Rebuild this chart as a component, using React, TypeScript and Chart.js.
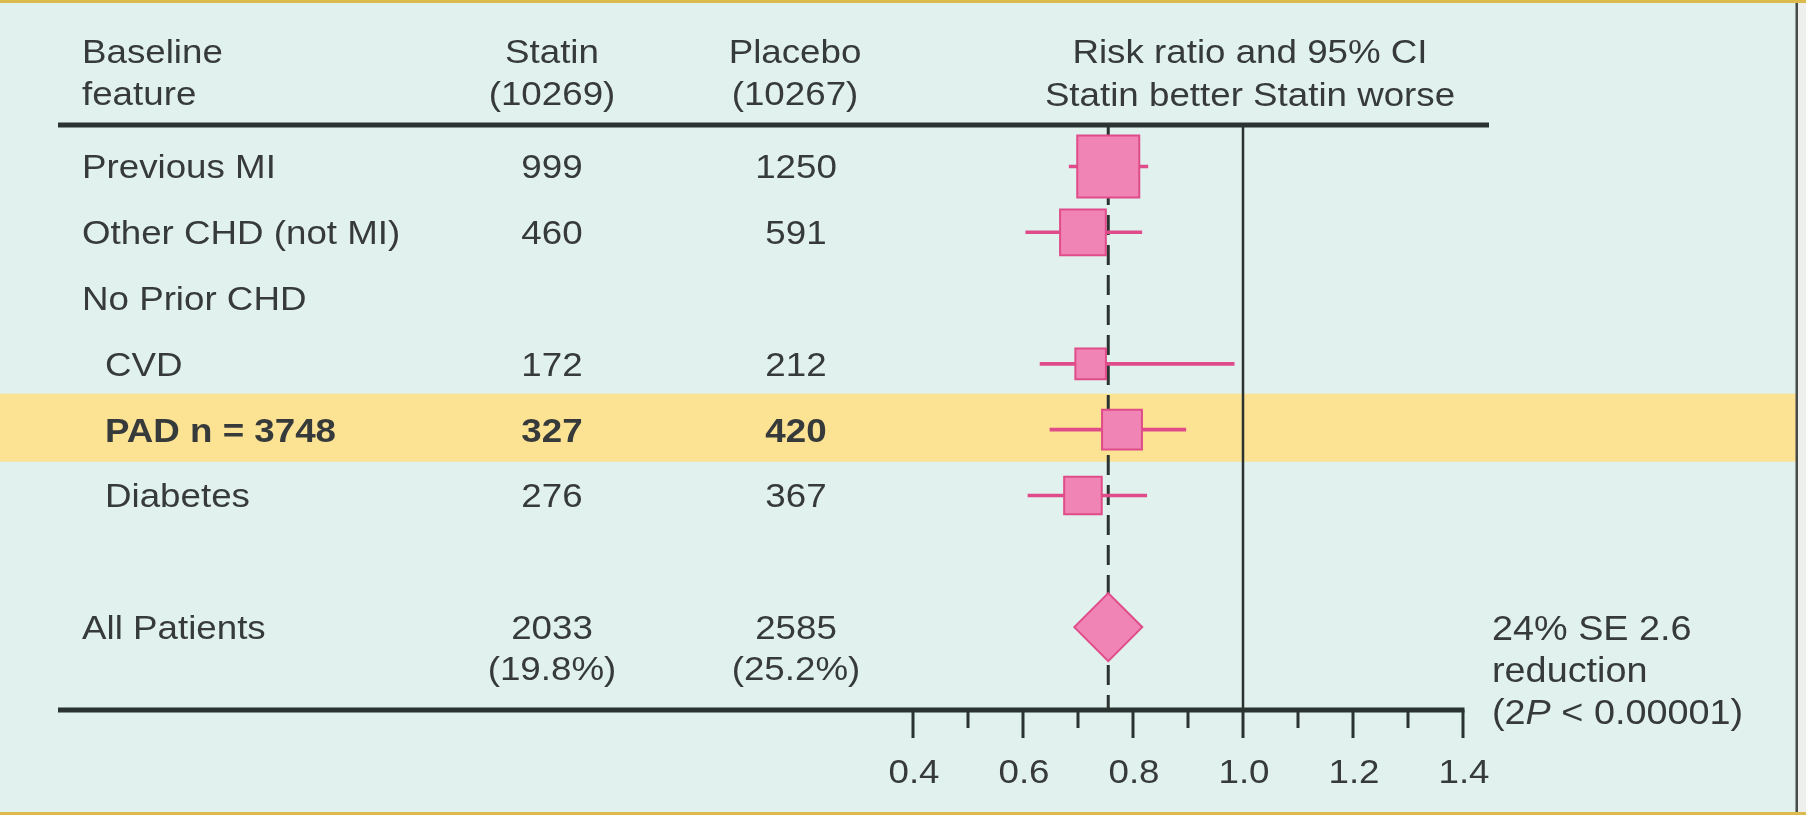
import React, { useEffect, useRef } from 'react';
import { Chart, registerables } from 'chart.js';

Chart.register(...registerables);

// ---------------- data ----------------
const features = ['Previous MI', 'Other CHD (not MI)', 'No Prior CHD', 'CVD', 'PAD n = 3748', 'Diabetes', 'All Patients'];
const rowPos = [0, 1, 2, 3, 4, 5, 7];
const indented = [false, false, false, true, true, true, false];
const highlighted = [false, false, false, false, true, false, false];
const isSummary = [false, false, false, false, false, false, true];
const statinEvents: (number | null)[] = [999, 460, null, 172, 327, 276, 2033];
const placeboEvents: (number | null)[] = [1250, 591, null, 212, 420, 367, 2585];
const statinPct: (string | null)[] = [null, null, null, null, null, null, '(19.8%)'];
const placeboPct: (string | null)[] = [null, null, null, null, null, null, '(25.2%)'];
const riskRatio: (number | null)[] = [0.755, 0.709, null, 0.723, 0.78, 0.709, 0.755];
const ciLower: (number | null)[] = [0.684, 0.605, null, 0.631, 0.649, 0.609, 0.693];
const ciUpper: (number | null)[] = [0.827, 0.816, null, 0.984, 0.896, 0.825, 0.813];

const headerLeft = ['Baseline', 'feature'];
const headerStatin = ['Statin', '(10269)'];
const headerPlacebo = ['Placebo', '(10267)'];
const headerRisk = ['Risk ratio and 95% CI', 'Statin better Statin worse'];
const summaryNote = ['24% SE 2.6', 'reduction'];
const pNote = ['(2', 'P', ' < 0.00001)'];

const majorTicks = [0.4, 0.6, 0.8, 1.0, 1.2, 1.4];
const minorTicks = [0.5, 0.7, 0.9, 1.1, 1.3];
const tickLabels = ['0.4', '0.6', '0.8', '1.0', '1.2', '1.4'];
const nullLine = 1.0;

// ---------------- styles ----------------
const FONT = '"Liberation Sans", Arial, Helvetica, sans-serif';
const TEXT = '#363a3a';
const LINE = '#2b3331';
const BG = '#e1f1ee';
const BAND = '#fce293';
const GOLD = '#dcbb4c';
const PINK_FILL = '#f084b4';
const PINK_EDGE = '#df4c89';
const SX = 1.08;

function drawText(ctx: CanvasRenderingContext2D, s: string, x: number, y: number, align: CanvasTextAlign, size: number, weight = 'normal', style = 'normal') {
  ctx.save();
  ctx.font = `${style} ${weight} ${size}px ${FONT}`;
  ctx.fillStyle = TEXT;
  ctx.textBaseline = 'alphabetic';
  ctx.textAlign = align;
  ctx.translate(x, y);
  ctx.scale(SX, 1);
  ctx.fillText(s, 0, 0);
  ctx.restore();
}

function textWidth(ctx: CanvasRenderingContext2D, s: string, size: number, weight = 'normal', style = 'normal') {
  ctx.save();
  ctx.font = `${style} ${weight} ${size}px ${FONT}`;
  const w = ctx.measureText(s).width * SX;
  ctx.restore();
  return w;
}

const forestPlugin = {
  id: 'forestDecor',
  beforeDraw(chart: any) {
    const { ctx, width, height } = chart;
    const y = chart.scales.y;
    ctx.save();
    ctx.fillStyle = BG;
    ctx.fillRect(0, 0, width, height);
    features.forEach((_, i) => {
      if (!highlighted[i]) return;
      const py = y.getPixelForValue(rowPos[i]);
      ctx.fillStyle = BAND;
      ctx.fillRect(0, py - 36, 1797, 68);
    });
    ctx.fillStyle = '#eef0ee';
    ctx.fillRect(1798, 0, width - 1798, height);
    ctx.fillStyle = '#474b4a';
    ctx.fillRect(1795.5, 3, 2.5, height - 6);
    ctx.fillStyle = GOLD;
    ctx.fillRect(0, 0, width, 3);
    ctx.fillRect(0, height - 3, width, 3);
    ctx.restore();
  },
  beforeDatasetsDraw(chart: any) {
    const { ctx, chartArea } = chart;
    const x = chart.scales.x;
    ctx.save();
    // null line at 1.0
    const x1 = x.getPixelForValue(nullLine);
    ctx.strokeStyle = LINE;
    ctx.lineWidth = 2.5;
    ctx.beginPath();
    ctx.moveTo(x1, chartArea.top);
    ctx.lineTo(x1, chartArea.bottom);
    ctx.stroke();
    // dashed overall line
    const xo = x.getPixelForValue(riskRatio[6] as number);
    ctx.setLineDash([20, 10]);
    ctx.lineWidth = 3;
    ctx.beginPath();
    ctx.moveTo(xo, chartArea.top);
    ctx.lineTo(xo, chartArea.bottom);
    ctx.stroke();
    ctx.restore();
  },
  afterDatasetsDraw(chart: any) {
    const { ctx, chartArea } = chart;
    const x = chart.scales.x;
    const y = chart.scales.y;
    ctx.save();
    ctx.strokeStyle = LINE;
    ctx.lineCap = 'butt';
    // header rule
    ctx.lineWidth = 5;
    ctx.beginPath();
    ctx.moveTo(58, chartArea.top);
    ctx.lineTo(1489, chartArea.top);
    ctx.stroke();
    // axis rule
    const xr = x.getPixelForValue(1.4);
    ctx.beginPath();
    ctx.moveTo(58, chartArea.bottom);
    ctx.lineTo(xr + 1.5, chartArea.bottom);
    ctx.stroke();
    // ticks
    ctx.lineWidth = 3;
    majorTicks.forEach((v) => {
      const px = x.getPixelForValue(v);
      ctx.beginPath();
      ctx.moveTo(px, chartArea.bottom);
      ctx.lineTo(px, chartArea.bottom + 28);
      ctx.stroke();
    });
    minorTicks.forEach((v) => {
      const px = x.getPixelForValue(v);
      ctx.beginPath();
      ctx.moveTo(px, chartArea.bottom);
      ctx.lineTo(px, chartArea.bottom + 18);
      ctx.stroke();
    });
    ctx.restore();
    majorTicks.forEach((v, i) => {
      drawText(ctx, tickLabels[i], x.getPixelForValue(v) + 1, chartArea.bottom + 73, 'center', 34);
    });

    // header text
    const hb = [63, 105];
    headerLeft.forEach((s, i) => drawText(ctx, s, 82, hb[i], 'left', 34));
    headerStatin.forEach((s, i) => drawText(ctx, s, 552, hb[i], 'center', 34));
    headerPlacebo.forEach((s, i) => drawText(ctx, s, 795, hb[i], 'center', 34));
    headerRisk.forEach((s, i) => drawText(ctx, s, 1250, hb[i] + (i ? 1 : 0), 'center', 34));

    // rows
    features.forEach((f, i) => {
      const py = y.getPixelForValue(rowPos[i]) + 12;
      const w = highlighted[i] ? 'bold' : 'normal';
      drawText(ctx, f, indented[i] ? 105 : 82, py, 'left', 34, w);
      if (statinEvents[i] != null) drawText(ctx, String(statinEvents[i]), 552, py, 'center', 34, w);
      if (placeboEvents[i] != null) drawText(ctx, String(placeboEvents[i]), 796, py, 'center', 34, w);
      if (statinPct[i]) drawText(ctx, statinPct[i] as string, 552, py + 41, 'center', 34);
      if (placeboPct[i]) drawText(ctx, placeboPct[i] as string, 796, py + 41, 'center', 34);
      if (isSummary[i]) {
        const nx = 1492;
        drawText(ctx, summaryNote[0], nx, py + 1, 'left', 35);
        drawText(ctx, summaryNote[1], nx, py + 43, 'left', 35);
        let cx = nx;
        const pb = py + 85;
        drawText(ctx, pNote[0], cx, pb, 'left', 35);
        cx += textWidth(ctx, pNote[0], 35);
        drawText(ctx, pNote[1], cx, pb, 'left', 35, 'normal', 'italic');
        cx += textWidth(ctx, pNote[1], 35, 'normal', 'italic');
        drawText(ctx, pNote[2], cx, pb, 'left', 35);
      }
    });
  },
};

function boxRadius(i: number) {
  const n = (statinEvents[i] as number) + (placeboEvents[i] as number);
  const half = 31 * Math.pow(n / 2249, 0.4);
  return half / Math.SQRT1_2;
}

export default function App() {
  const ref = useRef<HTMLCanvasElement | null>(null);

  useEffect(() => {
    document.body.style.margin = '0';
    const canvas = ref.current;
    if (!canvas) return;

    const studyIdx = features.map((_, i) => i).filter((i) => riskRatio[i] != null && !isSummary[i]);
    const summaryIdx = features.map((_, i) => i).filter((i) => riskRatio[i] != null && isSummary[i]);

    const chart = new Chart(canvas, {
      type: 'scatter',
      data: {
        datasets: [
          {
            type: 'bar',
            indexAxis: 'y',
            label: '95% CI',
            data: studyIdx.map((i) => ({ x: [ciLower[i], ciUpper[i]], y: rowPos[i] })),
            backgroundColor: PINK_EDGE,
            borderWidth: 0,
            barThickness: 3,
            order: 2,
          } as any,
          {
            type: 'scatter',
            label: 'Risk ratio',
            data: studyIdx.map((i) => ({ x: riskRatio[i], y: rowPos[i] })),
            pointStyle: 'rect',
            pointRadius: studyIdx.map((i) => boxRadius(i)),
            backgroundColor: PINK_FILL,
            borderColor: PINK_EDGE,
            borderWidth: 2,
            order: 1,
          } as any,
          {
            type: 'scatter',
            label: 'All patients',
            data: summaryIdx.map((i) => ({ x: riskRatio[i], y: rowPos[i] })),
            pointStyle: 'rectRot',
            pointRadius: 34,
            backgroundColor: PINK_FILL,
            borderColor: PINK_EDGE,
            borderWidth: 2,
            order: 0,
          } as any,
        ],
      },
      options: {
        responsive: false,
        maintainAspectRatio: false,
        animation: false,
        events: [],
        layout: { padding: { left: 913, right: 343, top: 125, bottom: 105 } },
        plugins: { legend: { display: false }, tooltip: { enabled: false }, title: { display: false } },
        scales: {
          x: { type: 'linear', min: 0.4, max: 1.4, display: false, beginAtZero: false, offset: false, grid: { offset: false } },
          y: { type: 'linear', min: -0.63, max: 8.26, reverse: true, display: false, offset: false, grid: { offset: false } },
        },
      } as any,
      plugins: [forestPlugin],
    });
    return () => chart.destroy();
  }, []);

  return (
    <div style={{ width: 1806, height: 815 }}>
      <canvas ref={ref} width={1806} height={815} style={{ display: 'block' }} />
    </div>
  );
}
